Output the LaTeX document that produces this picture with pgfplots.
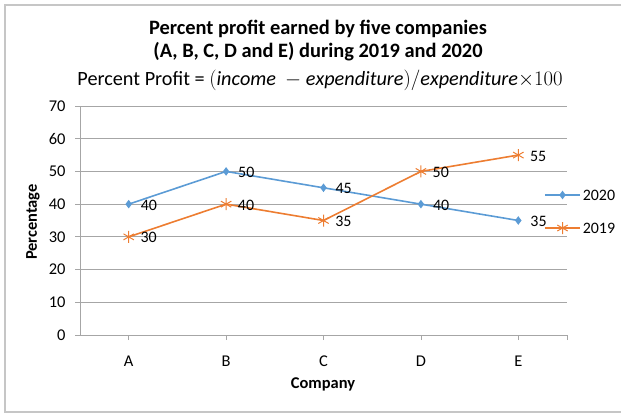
\documentclass[border=0pt]{standalone}
\usepackage{pgfplots}
\pgfplotsset{compat=1.18}
\usepackage{fontspec}
\setmainfont{Carlito}
\definecolor{sblue}{HTML}{5B9BD5}
\definecolor{sorange}{HTML}{ED7D31}
\definecolor{gridgray}{HTML}{A6A6A6}
\pgfplotsset{
  s2020/.style={color=sblue, line width=1.6bp, mark=diamond*, mark size=3bp, mark options={fill=sblue}},
  s2019/.style={color=sorange, line width=1.6bp, mark=asterisk, mark size=6bp, mark options={line width=1bp}},
}
\begin{document}
\begin{tikzpicture}[x=1bp,y=1bp]
% px (x,y) -> (x-80, 335-y)
\useasboundingbox (-80,335) rectangle (546,-83);
\draw[gray!45,line width=1.2bp] (541,330) -- (-75,330) -- (-75,-77) -- (541,-77);
\begin{axis}[
  at={(0,0)}, anchor=south west,
  scale only axis, width=487bp, height=229bp,
  xmin=-0.5, xmax=4.5, ymin=0, ymax=70,
  xtick={0,1,2,3,4}, xticklabels={A,B,C,D,E},
  extra x ticks={4.5}, extra x tick labels={},
  extra x tick style={grid=none},
  ytick={0,10,...,70},
  axis x line*=bottom, axis y line*=left,
  axis line style={gridgray,line width=0.8bp,-},
  tick style={gridgray,line width=0.8bp},
  major tick length=5bp,
  tick align=outside,
  ymajorgrids, grid style={gridgray,line width=0.8bp},
  /pgf/number format/assume math mode=true,
  tick label style={font=\fontsize{16.5}{18}\selectfont, black},
  xticklabel style={yshift=-12bp},
  yticklabel style={xshift=-6bp},
  clip=false,
  every node near coord/.append style={anchor=west, xshift=8bp, yshift=-1bp, black, font=\fontsize{16}{18}\selectfont},
]
\addplot[s2020, nodes near coords] coordinates {(0,40) (1,50) (2,45) (3,40) (4,35)};
\addplot[s2019, nodes near coords] coordinates {(0,30) (1,40) (2,35) (3,50) (4,55)};
% legend samples
\addplot[s2020, mark indices={2}] coordinates {(4.274,42.8) (4.454,42.8) (4.633,42.8)};
\addplot[s2019, mark indices={2}] coordinates {(4.274,32.7) (4.454,32.7) (4.633,32.7)};
\node[anchor=west, inner sep=0pt, font=\fontsize{16}{18}\selectfont] at (axis cs:4.66,42.8) {2020};
\node[anchor=west, inner sep=0pt, font=\fontsize{16}{18}\selectfont] at (axis cs:4.66,32.7) {2019};
\end{axis}
\node[font=\bfseries\fontsize{20.5}{24}\selectfont] at (238,306) {Percent profit earned by five companies};
\node[font=\bfseries\fontsize{20.5}{24}\selectfont] at (238,283) {(A, B, C, D and E) during 2019 and 2020};
\node[font=\fontsize{20.3}{23}\selectfont] at (240,255) {Percent Profit = $(\mathit{income}\ -\mathit{expenditure})/\mathit{expenditure}{\times}100$};
\node[font=\bfseries\fontsize{16.5}{19}\selectfont, rotate=90] at (-47,113) {Percentage};
\node[font=\bfseries\fontsize{16.5}{19}\selectfont] at (243,-49) {Company};
\end{tikzpicture}
\end{document}
